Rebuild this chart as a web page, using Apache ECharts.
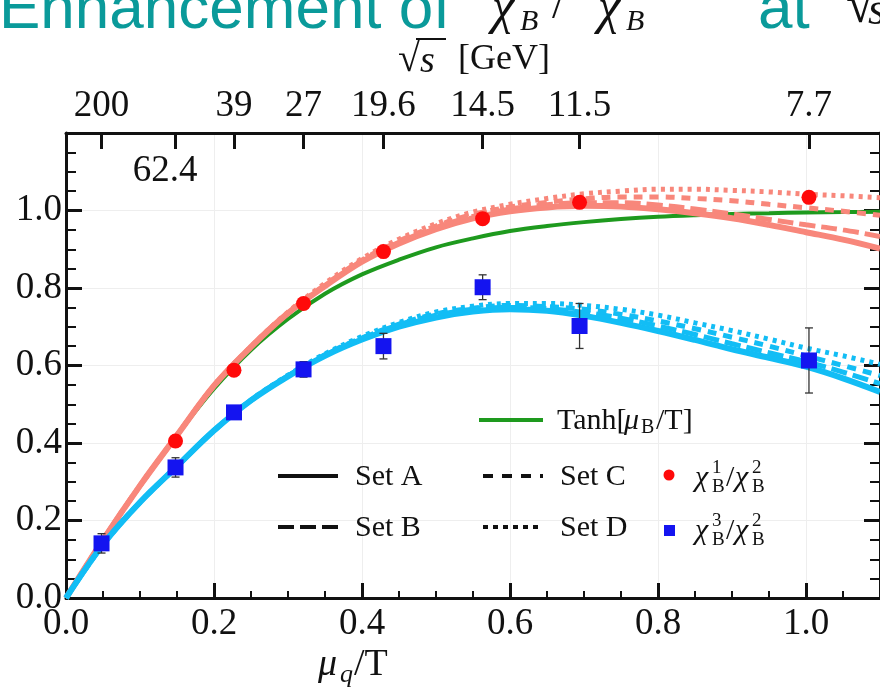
<!DOCTYPE html>
<html><head><meta charset="utf-8">
<script src="https://cdn.jsdelivr.net/npm/echarts@6/dist/echarts.min.js"></script>
<style>html,body{margin:0;padding:0;background:#fff;overflow:hidden}#c{width:880px;height:695px}</style>
</head><body><div id="c"></div>
<script>
// x grid (mu_q / T) for the model curves
const muOverT = [0, 0.05, 0.1, 0.15, 0.2, 0.25, 0.3, 0.35, 0.4, 0.45, 0.5, 0.55, 0.6, 0.65, 0.7, 0.75, 0.8, 0.85, 0.9, 0.95, 1.0, 1.05, 1.1];
// Tanh[mu_B/T]
const tanhCurve = [0, 0.15, 0.29, 0.42, 0.54, 0.64, 0.72, 0.785, 0.835, 0.873, 0.905, 0.928, 0.947, 0.96, 0.97, 0.978, 0.984, 0.988, 0.991, 0.993, 0.995, 0.996, 0.997];
// chi1/chi2 model curves (salmon)
const chi12SetA = [0, 0.15, 0.29, 0.42, 0.548, 0.648, 0.735, 0.805, 0.868, 0.915, 0.952, 0.98, 0.998, 1.008, 1.012, 1.01, 1.003, 0.993, 0.98, 0.963, 0.944, 0.925, 0.902];
const chi12SetB = [0, 0.15, 0.29, 0.42, 0.548, 0.648, 0.735, 0.806, 0.87, 0.918, 0.956, 0.985, 1.004, 1.015, 1.02, 1.02, 1.014, 1.004, 0.991, 0.977, 0.963, 0.95, 0.933];
const chi12SetC = [0, 0.15, 0.29, 0.42, 0.548, 0.648, 0.736, 0.808, 0.872, 0.921, 0.96, 0.99, 1.009, 1.021, 1.03, 1.035, 1.035, 1.031, 1.025, 1.016, 1.007, 0.998, 0.988];
const chi12SetD = [0, 0.15, 0.29, 0.42, 0.548, 0.649, 0.738, 0.812, 0.876, 0.926, 0.966, 0.996, 1.016, 1.031, 1.043, 1.05, 1.055, 1.055, 1.052, 1.048, 1.042, 1.038, 1.033];
// chi3/chi2 model curves (cyan)
const chi32SetA = [0, 0.138, 0.247, 0.34, 0.432, 0.51, 0.572, 0.625, 0.667, 0.7, 0.724, 0.739, 0.745, 0.741, 0.728, 0.71, 0.689, 0.666, 0.642, 0.62, 0.597, 0.567, 0.532];
const chi32SetB = [0, 0.138, 0.247, 0.34, 0.432, 0.51, 0.573, 0.627, 0.67, 0.705, 0.73, 0.745, 0.75, 0.747, 0.737, 0.722, 0.702, 0.68, 0.656, 0.633, 0.61, 0.583, 0.553];
const chi32SetC = [0, 0.138, 0.247, 0.34, 0.432, 0.51, 0.573, 0.628, 0.671, 0.707, 0.733, 0.748, 0.755, 0.752, 0.745, 0.732, 0.715, 0.695, 0.673, 0.65, 0.625, 0.6, 0.574];
const chi32SetD = [0, 0.138, 0.247, 0.34, 0.432, 0.511, 0.575, 0.63, 0.675, 0.711, 0.738, 0.753, 0.76, 0.76, 0.755, 0.745, 0.73, 0.71, 0.69, 0.668, 0.645, 0.625, 0.603];
// data points at the collision energies
const energyPos = [0.048, 0.148, 0.227, 0.321, 0.429, 0.563, 0.694, 1.004];
const energyLabels = ['200', '62.4', '39', '27', '19.6', '14.5', '11.5', '7.7'];
const ratio12 = [null, 0.405, 0.588, 0.76, 0.894, 0.979, 1.021, 1.034];
const ratio32 = [0.141, 0.337, 0.479, 0.59, 0.65, 0.802, 0.702, 0.613];
const ratio32Err = [0.025, 0.025, 0.015, 0.02, 0.033, 0.032, 0.058, 0.084];
const yTicks = [0, 0.2, 0.4, 0.6, 0.8, 1.0];

const SALMON = '#F8877B', CYAN = '#12BDF5', GREEN = '#1E9A1E';
const SERIF = 'Liberation Serif';
const pairs = (ys) => muOverT.map((x, i) => [x, ys[i]]);
const dashB = [16, 6], dashC = [9, 7], dashD = [4, 5];

function curve(name, ys, color, type, width, z) {
  return { name, type: 'line', data: pairs(ys), smooth: 0.35, showSymbol: false, symbol: 'none',
    lineStyle: { color, width, type, cap: 'butt', opacity: 1 }, z, silent: true, animation: false };
}

const chart = echarts.init(document.getElementById('c'), null, { renderer: 'canvas' });
const labelFont = { fontFamily: SERIF, fontSize: 37, color: '#111' };

const axisCommon = { type: 'value', min: 0, max: 1.1, interval: 0.2 };

const option = {
  animation: false,
  backgroundColor: '#fff',
  grid: { left: 66, top: 133, width: 818, height: 465, containLabel: false },
  xAxis: [
    Object.assign({}, axisCommon, {
      position: 'bottom',
      axisLine: { show: true, onZero: false, lineStyle: { color: '#111', width: 3 } },
      axisTick: { show: true, inside: true, length: 15, lineStyle: { color: '#111', width: 3 } },
      minorTick: { show: true, splitNumber: 4, length: 7, lineStyle: { color: '#111', width: 2 } },
      splitLine: { show: true, lineStyle: { color: '#eeeeee', width: 1 } },
      axisLabel: Object.assign({ margin: 8, showMaxLabel: false, formatter: v => v.toFixed(1) }, labelFont)
    }),
    Object.assign({}, axisCommon, {
      position: 'top',
      axisLine: { show: true, onZero: false, lineStyle: { color: '#111', width: 3 } },
      axisTick: { show: true, inside: true, length: 16, customValues: energyPos, lineStyle: { color: '#111', width: 3 } },
      splitLine: { show: false },
      axisLabel: Object.assign({ margin: 8,
        customValues: energyPos.filter((v, i) => energyLabels[i] !== '62.4'),
        formatter: v => energyLabels[energyPos.indexOf(v)] }, labelFont)
    })
  ],
  yAxis: [
    {
      type: 'value', min: 0, max: 1.2, interval: 0.2, position: 'left',
      axisLine: { show: true, onZero: false, lineStyle: { color: '#111', width: 3 } },
      axisTick: { show: true, inside: true, length: 16, lineStyle: { color: '#111', width: 3 } },
      minorTick: { show: true, splitNumber: 4, length: 10, lineStyle: { color: '#111', width: 2 } },
      splitLine: { show: true, lineStyle: { color: '#eeeeee', width: 1 } },
      axisLabel: Object.assign({ margin: 4, customValues: yTicks, formatter: v => v.toFixed(1) }, labelFont)
    },
    {
      type: 'value', min: 0, max: 1.2, interval: 0.2, position: 'right',
      axisLine: { show: true, onZero: false, lineStyle: { color: '#111', width: 3 } },
      axisTick: { show: true, inside: true, length: 16, lineStyle: { color: '#111', width: 3 } },
      minorTick: { show: true, splitNumber: 4, length: 10, lineStyle: { color: '#111', width: 2 } },
      splitLine: { show: false },
      axisLabel: { show: false }
    }
  ],
  series: [
    curve('Tanh', tanhCurve, GREEN, 'solid', 4, 2),
    curve('chi12 A', chi12SetA, SALMON, 'solid', 6, 3),
    curve('chi12 B', chi12SetB, SALMON, dashB, 5, 3),
    curve('chi12 C', chi12SetC, SALMON, dashC, 5, 3),
    curve('chi12 D', chi12SetD, SALMON, dashD, 5, 3),
    curve('chi32 A', chi32SetA, CYAN, 'solid', 6, 3),
    curve('chi32 B', chi32SetB, CYAN, dashB, 5, 3),
    curve('chi32 C', chi32SetC, CYAN, dashC, 5, 3),
    curve('chi32 D', chi32SetD, CYAN, dashD, 5, 3),
    {
      name: 'err32', type: 'custom', z: 5, silent: true,
      data: energyPos.map((x, i) => [x, ratio32[i], ratio32Err[i]]),
      encode: { x: 0, y: 1 },
      renderItem: (params, api) => {
        const x = api.value(0), y = api.value(1), e = api.value(2);
        const t = api.coord([x, y + e]), b = api.coord([x, y - e]);
        const w = 4, st = { stroke: '#333', lineWidth: 1.3 };
        return { type: 'group', children: [
          { type: 'line', shape: { x1: t[0], y1: t[1], x2: b[0], y2: b[1] }, style: st },
          { type: 'line', shape: { x1: t[0] - w, y1: t[1], x2: t[0] + w, y2: t[1] }, style: st },
          { type: 'line', shape: { x1: b[0] - w, y1: b[1], x2: b[0] + w, y2: b[1] }, style: st }
        ] };
      }
    },
    {
      name: 'chi1/chi2', type: 'scatter', z: 6, symbol: 'circle', symbolSize: 15,
      itemStyle: { color: '#FF0A0A', opacity: 1 },
      data: energyPos.map((x, i) => [x, ratio12[i]]).filter(d => d[1] !== null)
    },
    {
      name: 'chi3/chi2', type: 'scatter', z: 6, symbol: 'rect', symbolSize: 16,
      itemStyle: { color: '#1414F0', opacity: 1 },
      data: energyPos.map((x, i) => [x, ratio32[i]])
    }
  ],
  graphic: []
};

// ---------- texts and the hand-drawn legend ----------
const G = [];
const txt = (x, y, text, size, opts) => G.push({ type: 'text', x, y, z: 50, silent: true,
  style: Object.assign({ text, fontFamily: SERIF, fontSize: size, fill: '#111', align: 'left', verticalAlign: 'middle' }, opts || {}) });
const seg = (x1, y1, x2, y2, color, width, dash) => G.push({ type: 'line', z: 50, silent: true,
  shape: { x1, y1, x2, y2 }, style: { stroke: color, lineWidth: width, lineDash: dash || null } });

// cropped heading at the very top
txt(-1, 11, 'Enhancement of', 62, { fontFamily: 'Liberation Sans', fill: '#0A9A9A' });
txt(492, 10, 'χ', 50, { fontStyle: 'italic' });
txt(520, 22, 'B', 30, { fontStyle: 'italic' });
txt(552, 6, '/', 44, {});
txt(598, 10, 'χ', 50, { fontStyle: 'italic' });
txt(626, 22, 'B', 30, { fontStyle: 'italic' });
txt(758, 11, 'at', 62, { fontFamily: 'Liberation Sans', fill: '#0A9A9A' });
txt(846, 8, '√', 52, {});
txt(868, 12, 's', 46, { fontStyle: 'italic' });

// top axis title and the inner 62.4 label
txt(458, 60, '[GeV]', 36, {});
txt(398, 60, '√', 40, {});
txt(420, 62, 's', 38, { fontStyle: 'italic' });
seg(416, 39, 446, 39, '#111', 2);
txt(165, 171, '62.4', 37, { align: 'center' });

// bottom axis title
txt(318, 665, 'μ', 38, { fontStyle: 'italic' });
txt(340, 675, 'q', 26, { fontStyle: 'italic' });
txt(354, 665, '/T', 38, {});

// legend
seg(479, 420, 543, 420, GREEN, 4);
txt(557, 421, 'Tanh[', 30, {});
txt(624, 421, 'μ', 30, { fontStyle: 'italic' });
txt(641, 428, 'B', 20, {});
txt(656, 421, '/T]', 30, {});

seg(278, 476, 338, 476, '#111', 4);
txt(355, 477, 'Set A', 30, {});
seg(278, 527, 338, 527, '#111', 4, [16, 6]);
txt(355, 528, 'Set B', 30, {});
seg(483, 476, 543, 476, '#111', 4, [10, 9]);
txt(560, 477, 'Set C', 30, {});
seg(483, 527, 543, 527, '#111', 4, [5, 5]);
txt(560, 528, 'Set D', 30, {});

G.push({ type: 'circle', z: 50, silent: true, shape: { cx: 669, cy: 475, r: 5.5 }, style: { fill: '#FF0A0A' } });
G.push({ type: 'rect', z: 50, silent: true, shape: { x: 664, y: 525, width: 11, height: 11 }, style: { fill: '#1414F0' } });
function chiRatio(x, y, top1, top2) {
  txt(x, y, 'χ', 30, { fontStyle: 'italic' });
  txt(x + 17, y - 10, top1, 19, {});
  txt(x + 17, y + 9, 'B', 19, {});
  txt(x + 31, y, '/', 30, {});
  txt(x + 40, y, 'χ', 30, { fontStyle: 'italic' });
  txt(x + 57, y - 10, top2, 19, {});
  txt(x + 57, y + 9, 'B', 19, {});
}
chiRatio(695, 478, '1', '2');
chiRatio(695, 531, '3', '2');

option.graphic = G;
chart.setOption(option);
</script>
</body></html>
